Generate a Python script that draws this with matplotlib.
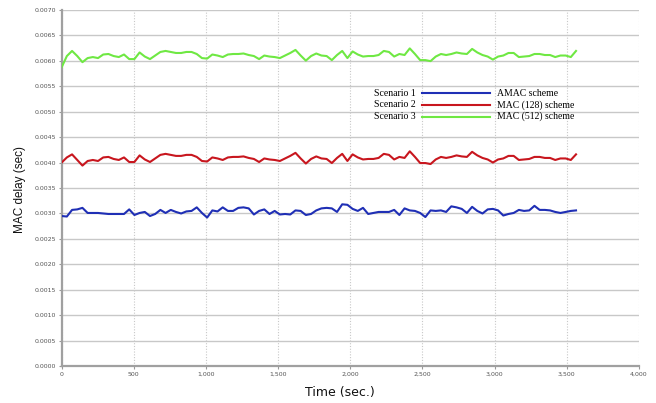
import matplotlib
matplotlib.use("Agg")
import matplotlib.pyplot as plt
from matplotlib.ticker import FuncFormatter, MultipleLocator

# sample times (sec), one point every 36 s
time_s = list(range(0, 3565, 36))

# Scenario 3: MAC (512) scheme
mac512 = [0.00587, 0.00609, 0.00619, 0.00609, 0.00597, 0.00605, 0.00607, 0.00605, 0.00612, 0.00613,
          0.00609, 0.00607, 0.00612, 0.00603, 0.00603, 0.00616, 0.00608, 0.00603, 0.00610, 0.00617,
          0.00619, 0.00617, 0.00615, 0.00615, 0.00617, 0.00617, 0.00613, 0.00605, 0.00604, 0.00612,
          0.00610, 0.00607, 0.00612, 0.00613, 0.00613, 0.00614, 0.00611, 0.00609, 0.00603, 0.00610,
          0.00608, 0.00607, 0.00605, 0.00610, 0.00615, 0.00621, 0.00610, 0.00600, 0.00609, 0.00614,
          0.00610, 0.00609, 0.00601, 0.00611, 0.00619, 0.00605, 0.00618, 0.00612, 0.00608, 0.00609,
          0.00609, 0.00611, 0.00619, 0.00617, 0.00608, 0.00613, 0.00611, 0.00624, 0.00613, 0.00601,
          0.00601, 0.00599, 0.00608, 0.00613, 0.00611, 0.00613, 0.00616, 0.00614, 0.00613, 0.00623,
          0.00616, 0.00611, 0.00608, 0.00602, 0.00608, 0.00610, 0.00615, 0.00615, 0.00607, 0.00608,
          0.00609, 0.00613, 0.00613, 0.00611, 0.00611, 0.00607, 0.00610, 0.00610, 0.00607, 0.00619]

# Scenario 2: MAC (128) scheme
mac128 = [0.00400, 0.00410, 0.00416, 0.00405, 0.00394, 0.00403, 0.00405, 0.00403, 0.00410, 0.00411,
          0.00407, 0.00405, 0.00410, 0.00401, 0.00401, 0.00414, 0.00406, 0.00401, 0.00408, 0.00415,
          0.00417, 0.00415, 0.00413, 0.00413, 0.00415, 0.00415, 0.00411, 0.00403, 0.00402, 0.00410,
          0.00408, 0.00405, 0.00410, 0.00411, 0.00411, 0.00412, 0.00409, 0.00407, 0.00401, 0.00408,
          0.00406, 0.00405, 0.00403, 0.00408, 0.00413, 0.00419, 0.00408, 0.00398, 0.00407, 0.00412,
          0.00408, 0.00407, 0.00399, 0.00409, 0.00417, 0.00403, 0.00416, 0.00410, 0.00406, 0.00407,
          0.00407, 0.00409, 0.00417, 0.00415, 0.00406, 0.00411, 0.00409, 0.00422, 0.00411, 0.00399,
          0.00399, 0.00397, 0.00406, 0.00411, 0.00409, 0.00411, 0.00414, 0.00412, 0.00411, 0.00421,
          0.00414, 0.00409, 0.00406, 0.00400, 0.00406, 0.00408, 0.00413, 0.00413, 0.00405, 0.00406,
          0.00407, 0.00411, 0.00411, 0.00409, 0.00409, 0.00405, 0.00408, 0.00408, 0.00405, 0.00416]

# Scenario 1: AMAC scheme
amac = [0.00295, 0.00294, 0.00307, 0.00308, 0.00311, 0.00301, 0.00301, 0.00301, 0.00300, 0.00299,
        0.00299, 0.00299, 0.00299, 0.00308, 0.00297, 0.00301, 0.00303, 0.00295, 0.00299, 0.00307,
        0.00301, 0.00307, 0.00303, 0.00300, 0.00304, 0.00305, 0.00312, 0.00301, 0.00292, 0.00306,
        0.00304, 0.00312, 0.00305, 0.00305, 0.00311, 0.00312, 0.00310, 0.00298, 0.00305, 0.00308,
        0.00299, 0.00305, 0.00298, 0.00299, 0.00298, 0.00306, 0.00305, 0.00297, 0.00299, 0.00306,
        0.00310, 0.00311, 0.00310, 0.00303, 0.00318, 0.00317, 0.00309, 0.00305, 0.00311, 0.00299,
        0.00301, 0.00303, 0.00303, 0.00303, 0.00307, 0.00297, 0.00310, 0.00306, 0.00305, 0.00301,
        0.00293, 0.00306, 0.00305, 0.00306, 0.00303, 0.00314, 0.00312, 0.00309, 0.00301, 0.00313,
        0.00305, 0.00300, 0.00308, 0.00309, 0.00306, 0.00296, 0.00299, 0.00301, 0.00307, 0.00305,
        0.00306, 0.00315, 0.00307, 0.00307, 0.00306, 0.00303, 0.00301, 0.00303, 0.00305, 0.00306]

scenarios = ["Scenario 1", "Scenario 2", "Scenario 3"]
schemes = ["AMAC scheme", "MAC (128) scheme", "MAC (512) scheme"]
colors = ["#1f2fb5", "#c8161e", "#6fe843"]

fig = plt.figure(figsize=(6.56, 4.03), dpi=100)
ax = fig.add_axes([0.094, 0.091, 0.880, 0.885])

for ys, c in zip([amac, mac128, mac512], colors):
    ax.plot(time_s, ys, color=c, lw=1.5, zorder=3)

ax.set_xlim(0, 4000)
ax.set_ylim(0, 0.007)
ax.xaxis.set_major_locator(MultipleLocator(500))
ax.yaxis.set_major_locator(MultipleLocator(0.0005))
ax.xaxis.set_major_formatter(FuncFormatter(lambda v, p: f"{int(v):,}"))
ax.yaxis.set_major_formatter(FuncFormatter(lambda v, p: f"{v:.4f}"))
ax.tick_params(labelsize=4.5, labelcolor="#555555", color="#999999",
               length=2.5, width=0.8, pad=1.5)

ax.grid(axis="y", color="#c8c8c8", lw=1.0, ls="-", zorder=0)
ax.grid(axis="x", color="#c8c8c8", lw=0.8, ls=(0, (1, 1.5)), zorder=0)
for side in ("top", "right"):
    ax.spines[side].set_visible(False)
for side in ("left", "bottom"):
    ax.spines[side].set_color("#a0a0a0")
    ax.spines[side].set_linewidth(1.6)

ax.set_xlabel("Time (sec.)", fontsize=9, color="#111111")
ax.xaxis.set_label_coords(0.482, -0.055)
ax.set_ylabel("MAC delay (sec)", fontsize=8.5, color="#111111",
              family="Liberation Sans")
ax.yaxis.set_label_coords(-0.062, 0.495)

# legend: scenario name | line | scheme name
for i, (sc, sch, c) in enumerate(zip(scenarios, schemes, colors)):
    yy = 0.766 - i * 0.033
    ax.plot([0.624, 0.742], [yy, yy], color=c, lw=1.5, transform=ax.transAxes,
            clip_on=False, zorder=4)
    ax.text(0.614, yy, sc, transform=ax.transAxes, ha="right", va="center",
            fontsize=7, family="Liberation Serif")
    ax.text(0.754, yy, sch, transform=ax.transAxes, ha="left", va="center",
            fontsize=7, family="Liberation Serif")

fig.savefig("out.png", dpi=100)
